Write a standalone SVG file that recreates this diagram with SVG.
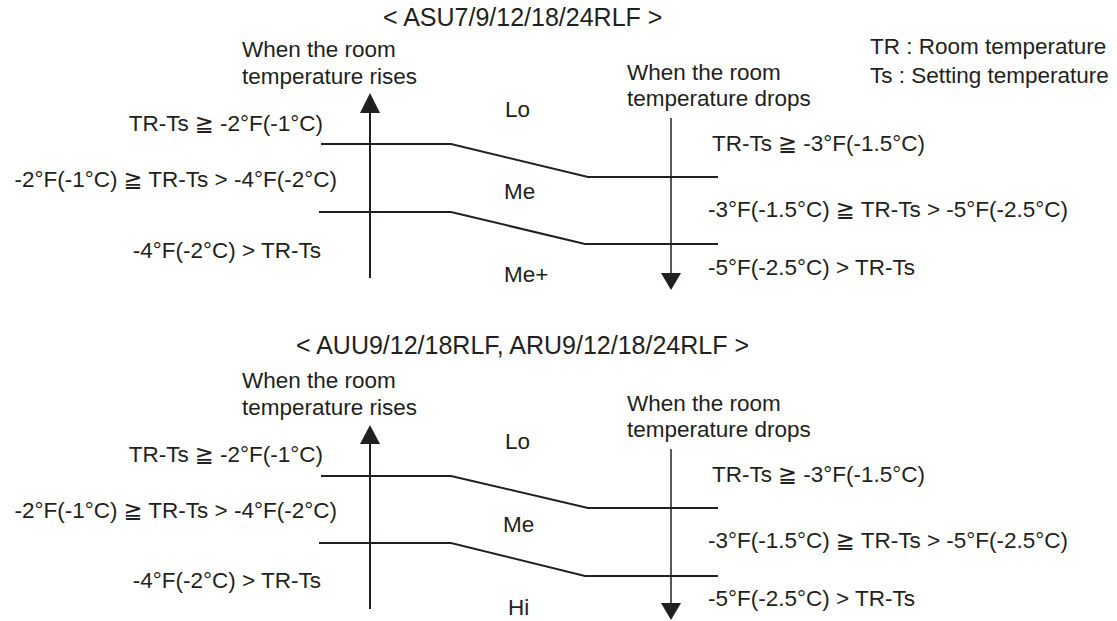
<svg xmlns="http://www.w3.org/2000/svg" width="1117" height="621" viewBox="0 0 1117 621">
<style>
text{font-family:"Liberation Sans",Arial,"DejaVu Sans",sans-serif;fill:#231f20;font-size:22.5px}
.title{font-size:25px}
.end{text-anchor:end}
.ln{fill:none;stroke:#231f20;stroke-width:2}
.ax{fill:none;stroke:#231f20;stroke-width:2}
.ax2{fill:none;stroke:#231f20;stroke-width:1.5}
.head{fill:#231f20;stroke:none}
</style>
<rect width="1117" height="621" fill="#fff"/>
<g id="legend">
<text x="870" y="54">TR : Room temperature</text>
<text x="870" y="83">Ts : Setting temperature</text>
</g>
<g id="diagram1">
<text class="title" x="383" y="26">&lt; ASU7/9/12/18/24RLF &gt;</text>
<g id="d1-rise-label"><text x="242" y="57">When the room</text><text x="242" y="84">temperature rises</text></g>
<g id="d1-drop-label"><text x="627" y="80">When the room</text><text x="627" y="106">temperature drops</text></g>
<g id="d1-left-labels">
<text class="end" x="323" y="131">TR-Ts ≧ -2°F(-1°C)</text>
<text class="end" x="337" y="187">-2°F(-1°C) ≧ TR-Ts &gt; -4°F(-2°C)</text>
<text class="end" x="321" y="258">-4°F(-2°C) &gt; TR-Ts</text>
</g>
<g id="d1-right-labels">
<text x="712" y="151">TR-Ts ≧ -3°F(-1.5°C)</text>
<text x="708" y="217">-3°F(-1.5°C) ≧ TR-Ts &gt; -5°F(-2.5°C)</text>
<text x="708" y="275">-5°F(-2.5°C) &gt; TR-Ts</text>
</g>
<g id="d1-modes"><text x="505" y="117">Lo</text><text x="504" y="199">Me</text><text x="504" y="282">Me+</text></g>
<g id="d1-connectors">
<polyline class="ln" points="321,144 451,144 588,177 718,177"/>
<polyline class="ln" points="319,212 451,212 585,244 718,244"/>
<line class="ax" x1="370" y1="278" x2="370" y2="110"/>
<polygon class="head" points="370,93 360,113 380,113"/>
<line class="ax2" x1="671" y1="118" x2="671" y2="276"/>
<polygon class="head" points="671,290 661,273 681,273"/>
</g>
</g>
<g id="diagram2">
<text class="title" x="296" y="354">&lt; AUU9/12/18RLF, ARU9/12/18/24RLF &gt;</text>
<g id="d2-rise-label"><text x="242" y="388">When the room</text><text x="242" y="415">temperature rises</text></g>
<g id="d2-drop-label"><text x="627" y="411">When the room</text><text x="627" y="437">temperature drops</text></g>
<g id="d2-left-labels">
<text class="end" x="323" y="462">TR-Ts ≧ -2°F(-1°C)</text>
<text class="end" x="337" y="518">-2°F(-1°C) ≧ TR-Ts &gt; -4°F(-2°C)</text>
<text class="end" x="321" y="588">-4°F(-2°C) &gt; TR-Ts</text>
</g>
<g id="d2-right-labels">
<text x="712" y="482">TR-Ts ≧ -3°F(-1.5°C)</text>
<text x="708" y="548">-3°F(-1.5°C) ≧ TR-Ts &gt; -5°F(-2.5°C)</text>
<text x="708" y="606">-5°F(-2.5°C) &gt; TR-Ts</text>
</g>
<g id="d2-modes"><text x="505" y="449">Lo</text><text x="503" y="532">Me</text><text x="508" y="615">Hi</text></g>
<g id="d2-connectors">
<polyline class="ln" points="321,476 451,476 588,508 718,508"/>
<polyline class="ln" points="319,543 451,543 585,576 718,576"/>
<line class="ax" x1="370" y1="609" x2="370" y2="442"/>
<polygon class="head" points="370,425 360,444 380,444"/>
<line class="ax2" x1="671" y1="449" x2="671" y2="606"/>
<polygon class="head" points="671,620 661,603 681,603"/>
</g>
</g>
</svg>
